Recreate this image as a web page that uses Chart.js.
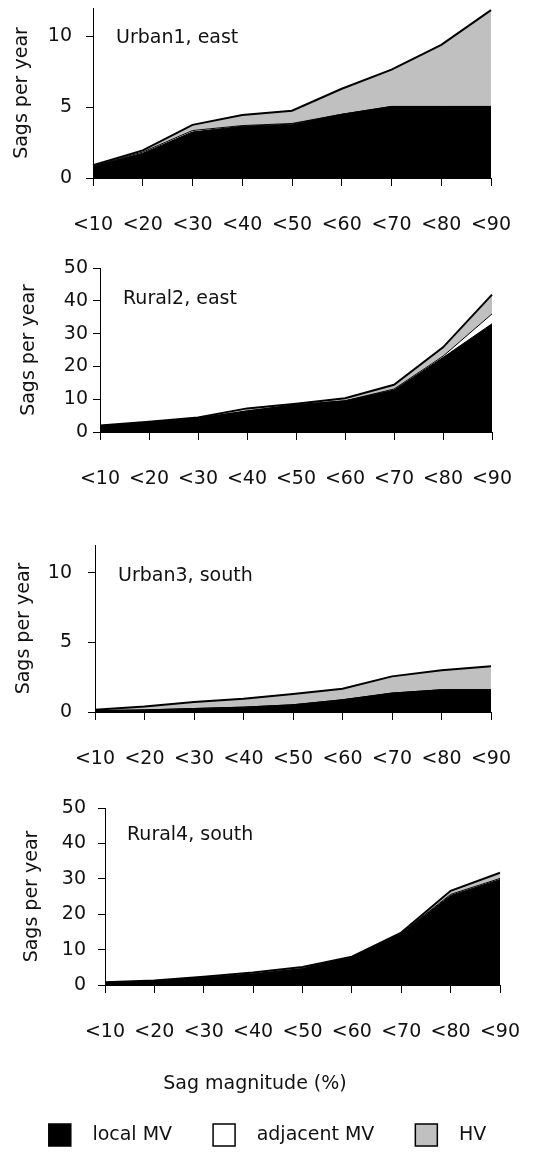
<!DOCTYPE html>
<html>
<head>
<meta charset="utf-8">
<script src="https://cdn.jsdelivr.net/npm/chart.js@4.4.1/dist/chart.umd.min.js"></script>
<style>
  html, body { margin: 0; padding: 0; background: #fff; overflow: hidden; }
  body { position: relative; width: 535px; height: 1156px; }
  canvas { position: absolute; left: 0; }
</style>
</head>
<body>
<canvas id="urban1" width="535" height="238" style="top:0px"></canvas>
<canvas id="rural2" width="535" height="242" style="top:250px"></canvas>
<canvas id="urban3" width="535" height="272" style="top:500px"></canvas>
<canvas id="rural4" width="535" height="376" style="top:780px"></canvas>
<script>
// categories
const magnitudes = ["<10", "<20", "<30", "<40", "<50", "<60", "<70", "<80", "<90"];
const seriesNames = ["local MV", "adjacent MV", "HV"];

// Urban1, east
const urban1Local = [0.85, 1.75, 3.25, 3.65, 3.8, 4.5, 5.05, 5.05, 5.05];
const urban1Adjacent = [0.03, 0.08, 0.1, 0.05, 0.05, 0, 0, 0, 0];
const urban1HV = [0.02, 0.12, 0.4, 0.75, 0.9, 1.8, 2.6, 4.35, 6.8];

// Rural2, east
const rural2Local = [1.9, 3.0, 4.2, 6.4, 8.3, 9.5, 12.8, 22.7, 33.0];
const rural2Adjacent = [0, 0, 0, 0, 0, 0, 0.3, 0.4, 3.0];
const rural2HV = [0.1, 0.1, 0.2, 0.8, 0.3, 0.8, 1.3, 2.7, 5.9];

// Urban3, south
const urban3Local = [0.1, 0.15, 0.25, 0.35, 0.52, 0.88, 1.36, 1.6, 1.6];
const urban3Adjacent = [0, 0, 0, 0, 0, 0, 0, 0, 0];
const urban3HV = [0.06, 0.25, 0.47, 0.61, 0.77, 0.79, 1.2, 1.4, 1.68];

// Rural4, south
const rural4Local = [0.7, 1.2, 2.0, 3.1, 4.6, 7.8, 14.5, 25.3, 29.8];
const rural4Adjacent = [0, 0, 0, 0, 0, 0, 0.1, 0.3, 0.3];
const rural4HV = [0.1, 0.1, 0.3, 0.4, 0.5, 0.2, 0.2, 1.0, 1.6];

const fontFamily = "'DejaVu Sans', sans-serif";
const ink = "#111";

// draws the panel name (and the shared x title) inside the canvas
const panelText = {
  id: "panelText",
  afterDraw(chart, args, opts) {
    const ctx = chart.ctx;
    const area = chart.chartArea;
    ctx.save();
    ctx.fillStyle = ink;
    ctx.font = "19px " + fontFamily;
    ctx.textBaseline = "alphabetic";
    (opts.items || []).forEach((item) => {
      ctx.textAlign = item.align || "left";
      ctx.fillText(item.text, area.left + item.dx, area.top + item.dy);
    });
    ctx.restore();
  },
};

const makePanel = (id, local, adjacent, hv, yMax, yStep, place) => {
  const ctx = document.getElementById(id).getContext("2d");
  return new Chart(ctx, {
    type: "line",
    data: {
      labels: magnitudes,
      datasets: [
        {
          label: seriesNames[0],
          data: local,
          backgroundColor: "#000",
          borderColor: "#000",
          borderWidth: 1,
          fill: "origin",
        },
        {
          label: seriesNames[1],
          data: adjacent,
          backgroundColor: "#fff",
          borderColor: "#000",
          borderWidth: 1,
          fill: "-1",
        },
        {
          label: seriesNames[2],
          data: hv,
          backgroundColor: "#c0c0c0",
          borderColor: "#000",
          borderWidth: 2,
          fill: "-1",
        },
      ],
    },
    options: {
      responsive: false,
      animation: false,
      devicePixelRatio: 1,
      elements: {
        point: { radius: 0, hoverRadius: 0 },
        line: { tension: 0 },
      },
      layout: {
        padding: { top: place.top, left: 0, right: 0, bottom: 0 },
      },
      scales: {
        x: {
          offset: false,
          grid: { drawOnChartArea: false, drawTicks: true, tickLength: 8, color: "#000" },
          border: { display: true, color: "#000", width: 1 },
          ticks: {
            color: ink,
            padding: 28,
            maxRotation: 0,
            autoSkip: false,
            font: { family: fontFamily, size: 19 },
          },
          afterFit: (s) => {
            s.height = place.xHeight;
            s.paddingLeft = 0;
            s.paddingRight = place.right;
          },
        },
        y: {
          stacked: true,
          min: 0,
          max: yMax,
          grid: { drawOnChartArea: false, drawTicks: true, tickLength: 7, color: "#000" },
          border: { display: true, color: "#000", width: 1 },
          ticks: {
            stepSize: yStep,
            color: ink,
            padding: place.yPad,
            font: { family: fontFamily, size: 19 },
          },
          title: {
            display: true,
            text: "Sags per year",
            color: ink,
            padding: { top: place.titlePad, bottom: 0 },
            font: { family: fontFamily, size: 19 },
          },
          afterBuildTicks: (s) => {
            s.ticks = s.ticks.filter((t) => t.value % yStep === 0);
          },
          afterFit: (s) => {
            s.width = place.yWidth;
            s.paddingTop = 0;
            s.paddingBottom = 0;
          },
        },
      },
      plugins: {
        tooltip: { enabled: false },
        panelText: { items: place.texts },
        legend: place.legend
          ? {
              display: true,
              position: "bottom",
              labels: {
                color: ink,
                boxWidth: 22,
                boxHeight: 22,
                padding: 41,
                font: { family: fontFamily, size: 19 },
                generateLabels: (chart) =>
                  chart.data.datasets.map((ds, i) => ({
                    text: "  " + ds.label,
                    fillStyle: ds.backgroundColor,
                    strokeStyle: "#000",
                    lineWidth: 1.5,
                    fontColor: ink,
                    hidden: false,
                    datasetIndex: i,
                  })),
              },
            }
          : { display: false },
      },
    },
    plugins: [panelText],
  });
};

makePanel("urban1", urban1Local, urban1Adjacent, urban1HV, 12, 5, {
  top: 8, right: 44, yWidth: 93, titlePad: 11, yPad: 14, xHeight: 60,
  texts: [{ text: "Urban1, east", dx: 23, dy: 35 }],
});
makePanel("rural2", rural2Local, rural2Adjacent, rural2HV, 50, 10, {
  top: 18, right: 43, yWidth: 100, titlePad: 18, yPad: 5, xHeight: 60,
  texts: [{ text: "Rural2, east", dx: 23, dy: 36 }],
});
makePanel("urban3", urban3Local, urban3Adjacent, urban3HV, 12, 5, {
  top: 45, right: 44, yWidth: 95, titlePad: 13, yPad: 16, xHeight: 60,
  texts: [{ text: "Urban3, south", dx: 23, dy: 36 }],
});
makePanel("rural4", rural4Local, rural4Adjacent, rural4HV, 50, 10, {
  top: 28, right: 35, yWidth: 105, titlePad: 21, yPad: 12, xHeight: 98,
  legend: true,
  texts: [
    { text: "Rural4, south", dx: 22, dy: 32 },
    { text: "Sag magnitude (%)", dx: 150, dy: 281, align: "center" },
  ],
});
</script>
</body>
</html>
